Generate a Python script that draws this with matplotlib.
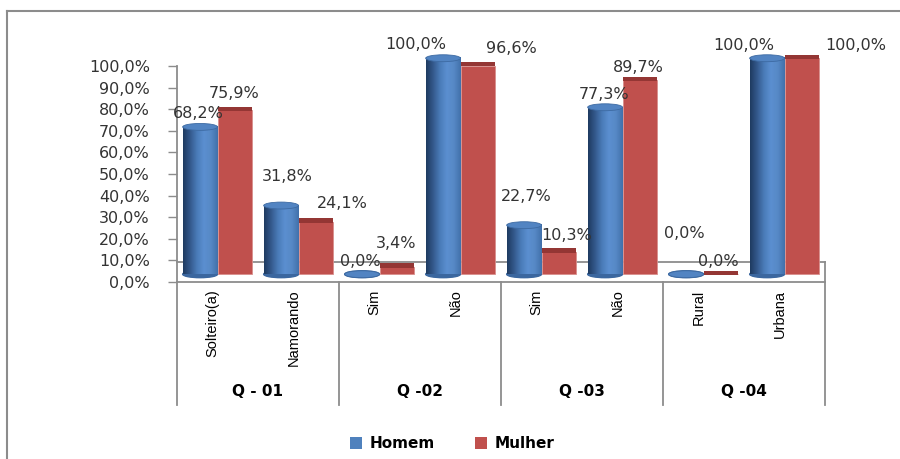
import numpy as np
import matplotlib
matplotlib.use("Agg")
import matplotlib.pyplot as plt
from matplotlib.colors import LinearSegmentedColormap
from matplotlib.lines import Line2D
from matplotlib.patches import Ellipse, Patch, Rectangle

# data
categories = ["Solteiro(a)", "Namorando", "Sim", "Não", "Sim", "Não", "Rural", "Urbana"]
groups = ["Q - 01", "Q -02", "Q -03", "Q -04"]
homem = [68.2, 31.8, 0.0, 100.0, 22.7, 77.3, 0.0, 100.0]
mulher = [75.9, 24.1, 3.4, 96.6, 10.3, 89.7, 0.0, 100.0]
yticks = [0, 10, 20, 30, 40, 50, 60, 70, 80, 90, 100]

# label nudges in pixels (dx, up) -- Excel placed them a bit arbitrarily
homem_nudge = [(-2, 13), (6, 29), (-2, 13), (-27, 14), (2, 29), (-1, 13), (-2, 41), (-23, 13)]
mulher_nudge = [(-1, 17), (26, 19), (-1, 23), (33, 17), (8, 16), (-2, 13), (-3, 13), (54, 13)]

BLUE, RED, RED_TOP = "#4f81bd", "#c0504d", "#943634"
GRID = "#8c8c8c"
TXT = "#333333"
DEPTH = 0.036      # 3D floor offset of the bars
W = 0.43           # bar width per series
CAP = 0.032        # cylinder ellipse height
STRIP = 0.021      # top face of the red boxes

cyl = LinearSegmentedColormap.from_list(
    "cyl", ["#1f3b61", "#34598c", "#4a7bb8", "#5b8fd0", "#5789c6", "#4271ab"])
grad = np.linspace(0, 1, 64)[None, :]

fig = plt.figure(figsize=(9, 4.59), dpi=100)
ax = fig.add_axes([177 / 900, 177 / 459, 648 / 900, 216 / 459])
ax.set_xlim(0, len(categories))
ax.set_ylim(0, 1)
for s in ax.spines.values():
    s.set_visible(False)

ax.set_xticks([])
ax.set_yticks([v / 100 for v in yticks])
ax.set_yticklabels([f"{v:.1f}%".replace(".", ",") for v in yticks],
                   fontsize=11.5, color=TXT, family="DejaVu Sans")
ax.tick_params(axis="y", length=6.5, width=1, color=GRID, pad=13)

# axes frame, 3D floor and category separators
bottom_sep = -0.57
back = 20 / 216
n = len(categories)
ax.plot([0, 0], [1, bottom_sep], color=GRID, lw=1.3, clip_on=False)
ax.plot([0, n], [0, 0], color=GRID, lw=1.3, clip_on=False)
ax.plot([0, n], [back, back], color=GRID, lw=1.3, clip_on=False)
for gx in range(2, n + 1, 2):
    top = back if gx == n else 0
    ax.plot([gx, gx], [top, bottom_sep], color=GRID, lw=1.3, clip_on=False)

px = 0.72  # pixel -> point
for i, (h, m) in enumerate(zip(homem, mulher)):
    c = i + 0.5
    # blue cylinder
    xb = c - W / 2
    hv = h / 100
    ax.add_patch(Ellipse((xb, DEPTH), W, CAP, color="#3b679f", zorder=2, clip_on=False))
    if hv > 0:
        ax.imshow(grad, cmap=cyl, extent=[xb - W / 2, xb + W / 2, DEPTH, DEPTH + hv],
                  aspect="auto", zorder=3, clip_on=False, interpolation="bilinear")
    ax.add_patch(Ellipse((xb, DEPTH + hv), W, CAP, facecolor="#5284c2",
                         edgecolor="#3d6aa2", lw=0.6, zorder=4, clip_on=False))
    # red box
    xr = c + W / 2
    mv = m / 100
    ax.add_patch(Rectangle((xr - W / 2, DEPTH), W, mv, facecolor=RED,
                           edgecolor="#d88f8d", lw=0.6, zorder=3, clip_on=False))
    ax.add_patch(Rectangle((xr - W / 2, DEPTH + mv - 0.004), W, STRIP, facecolor=RED_TOP,
                           edgecolor="none", zorder=4, clip_on=False))

    for x0, v, (dx, dy) in ((xb, hv, homem_nudge[i]), (xr, mv, mulher_nudge[i])):
        ax.annotate(f"{v * 100:.1f}%".replace(".", ","), (x0, DEPTH + v),
                    xytext=(dx * px, dy * px), textcoords="offset points",
                    ha="center", va="center", fontsize=11.5, color=TXT,
                    family="DejaVu Sans", zorder=6, annotation_clip=False)

    ax.text(c - 0.06, -0.035, categories[i], rotation=90, ha="center", va="top",
            fontsize=10.5, color="black", family="Liberation Sans")

for g, name in enumerate(groups):
    ax.text(2 * g + 1, -0.505, name, ha="center", va="center", fontsize=11,
            fontweight="bold", color="black", family="DejaVu Sans")

handles = [Patch(facecolor=BLUE, label="Homem"), Patch(facecolor=RED, label="Mulher")]
fig.legend(handles=handles, loc="center", bbox_to_anchor=(452 / 900, 15 / 459),
           ncol=2, frameon=False, handlelength=0.8, handleheight=0.8,
           handletextpad=0.5, columnspacing=2.6,
           prop={"family": "DejaVu Sans", "weight": "bold", "size": 11})

# outer chart border (cropped on the right and bottom)
fig.add_artist(Line2D([7 / 900, 7 / 900], [0, 1 - 11 / 459], color=GRID, lw=1.5))
fig.add_artist(Line2D([7 / 900, 1], [1 - 11 / 459, 1 - 11 / 459], color=GRID, lw=1.5))

fig.savefig("out.png", dpi=100)
